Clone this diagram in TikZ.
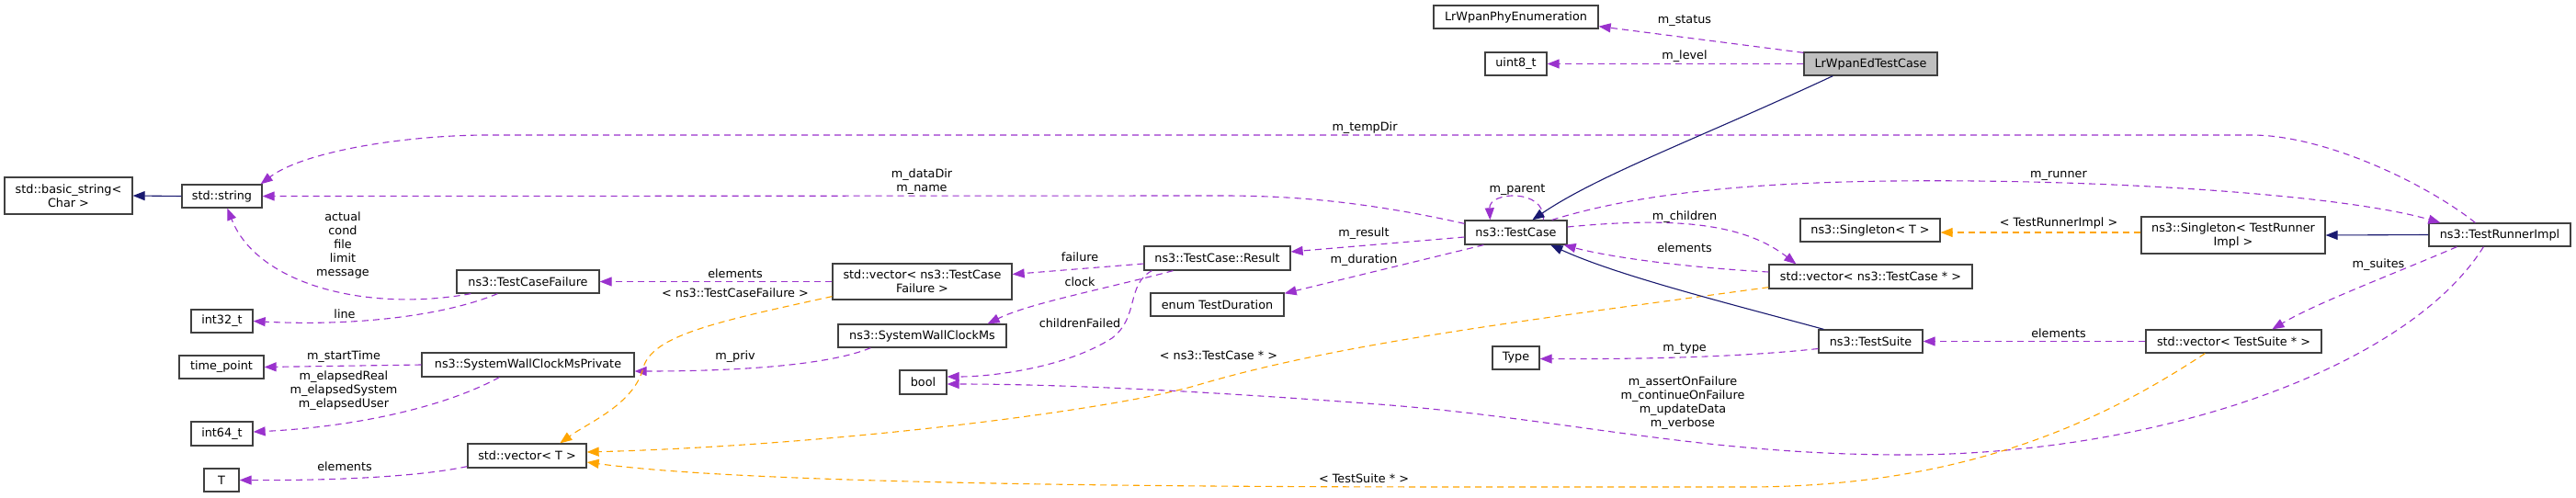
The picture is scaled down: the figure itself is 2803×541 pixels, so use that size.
\documentclass[tikz,border=0pt]{standalone}
\usepackage{fontspec}
\setmainfont{DejaVu Sans}
\usetikzlibrary{arrows.meta,calc}
\definecolor{usecol}{HTML}{9A32CD}
\definecolor{tplcol}{HTML}{FFA500}
\definecolor{inhcol}{HTML}{191970}
\definecolor{bordercol}{HTML}{404040}
\definecolor{fillgray}{HTML}{BFBFBF}
\begin{document}
\begin{tikzpicture}[x=1pt,y=-1pt,
  every node/.style={font=\fontsize{12.8}{15}\selectfont},
  cls/.style={draw=bordercol, line width=1.3pt, fill=white, inner sep=0pt, align=center},
  lbl/.style={inner sep=0pt, align=center},
  use/.style={draw=usecol, line width=1.1pt, dash pattern=on 7pt off 5pt, -{Triangle[length=13pt,width=10pt]}},
  tpl/.style={draw=tplcol, line width=1.1pt, dash pattern=on 7pt off 5pt, -{Triangle[length=13pt,width=10pt]}},
  inh/.style={draw=inhcol, line width=1.1pt, -{Triangle[length=13pt,width=10pt]}}
]
\fill[white] (0,0) rectangle (2803,541);
\useasboundingbox (0,0) rectangle (2803,541);

% nodes
\node[cls, minimum width=139pt, minimum height=40pt] (bstr) at (74.5,213) {std::basic\_string<\\Char >};
\node[cls, minimum width=87pt, minimum height=25pt] (str) at (241.5,213.5) {std::string};
\node[cls, minimum width=67pt, minimum height=25pt] (i32) at (241.5,349.5) {int32\_t};
\node[cls, minimum width=92pt, minimum height=25pt] (tp) at (241,399.5) {time\_point};
\node[cls, minimum width=67pt, minimum height=26pt] (i64) at (241.5,472) {int64\_t};
\node[cls, minimum width=38pt, minimum height=25pt] (tT) at (241,522.5) {T};
\node[cls, minimum width=155pt, minimum height=25pt] (tcf) at (574.5,306.5) {ns3::TestCaseFailure};
\node[cls, minimum width=231pt, minimum height=26pt] (swp) at (574.5,397) {ns3::SystemWallClockMsPrivate};
\node[cls, minimum width=129pt, minimum height=26pt] (vT) at (573.5,496) {std::vector< T >};
\node[cls, minimum width=195pt, minimum height=39pt] (vtcf) at (1003.5,306.5) {std::vector< ns3::TestCase\\Failure >};
\node[cls, minimum width=183pt, minimum height=25pt] (swc) at (1003.5,365.5) {ns3::SystemWallClockMs};
\node[cls, minimum width=51pt, minimum height=26pt] (bool) at (1004.5,416) {bool};
\node[cls, minimum width=159pt, minimum height=26pt] (res) at (1324.5,281) {ns3::TestCase::Result};
\node[cls, minimum width=145pt, minimum height=25pt] (etd) at (1324.5,331.5) {enum TestDuration};
\node[cls, minimum width=111pt, minimum height=26pt] (tc) at (1649.5,253) {ns3::TestCase};
\node[cls, minimum width=179pt, minimum height=25pt] (lpe) at (1649.5,18.5) {LrWpanPhyEnumeration};
\node[cls, minimum width=67pt, minimum height=25pt] (u8) at (1649.5,69.5) {uint8\_t};
\node[cls, minimum width=51pt, minimum height=25pt] (typ) at (1649.5,389.5) {Type};
\node[cls, fill=fillgray, minimum width=145pt, minimum height=25pt] (led) at (2035.5,69.5) {LrWpanEdTestCase};
\node[cls, minimum width=152pt, minimum height=25pt] (sgT) at (2035,250.5) {ns3::Singleton< T >};
\node[cls, minimum width=221pt, minimum height=26pt] (vtc) at (2035.5,301) {std::vector< ns3::TestCase * >};
\node[cls, minimum width=113pt, minimum height=25pt] (ts) at (2035.5,371.5) {ns3::TestSuite};
\node[cls, minimum width=200pt, minimum height=40pt] (sgR) at (2430,256) {ns3::Singleton< TestRunner\\Impl >};
\node[cls, minimum width=191pt, minimum height=25pt] (vts) at (2430.5,371.5) {std::vector< TestSuite * >};
\node[cls, minimum width=154pt, minimum height=25pt] (tri) at (2720,255.5) {ns3::TestRunnerImpl};

% usage edges
\draw[use] ($(led.north west)+(0,1)$) -- ($(lpe.south east)+(0,-3)$);
\draw[use] (led.west) -- (u8.east);
\draw[use] ($(tri.north west)+(51,0)$) .. controls (2640,200) and (2530,147) .. (2450,147) -- (532,147) .. controls (440,147) and (330,165) .. ($(str.north east)+(-2,0)$);
\draw[use] ($(tc.north west)+(0,4)$) .. controls (1480,218) and (1400,213) .. (1330,213) -- (str.east);
\draw[use] ($(tcf.south west)+(16,0)$) .. controls (400,340) and (280,310) .. ($(str.south west)+(50,0)$);
\draw[use] ($(tcf.south west)+(45,0)$) .. controls (480,345) and (380,355) .. (i32.east);
\draw[use] (swp.west) -- (tp.east);
\draw[use] ($(swp.south west)+(85,0)$) .. controls (480,445) and (380,465) .. ($(i64.east)+(0,-2)$);
\draw[use] ($(vT.south west)+(0,-2)$) .. controls (450,520) and (350,523) .. (tT.east);
\draw[use] (vtcf.west) -- (tcf.east);
\draw[use] ($(res.west)+(0,6)$) -- ($(vtcf.east)+(0,-8)$);
\draw[use] ($(res.south west)+(32,0)$) .. controls (1200,315) and (1120,330) .. ($(swc.north east)+(-21,0)$);
\draw[use] ($(swc.south west)+(36,0)$) .. controls (900,398) and (800,404) .. ($(swp.east)+(0,7)$);
\draw[use] ($(res.south west)+(9,0)$) .. controls (1225,310) and (1240,345) .. (1210,368) .. controls (1160,400) and (1080,410) .. ($(bool.east)+(0,-6)$);
\draw[use] ($(tc.west)+(0,5)$) -- ($(res.east)+(0,-7)$);
\draw[use] ($(tc.south west)+(21,0)$) -- ($(etd.north east)+(0,1)$);
\draw[use] ($(tc.north west)+(86,0)$) .. controls (1682,205) and (1620,208) .. ($(tc.north west)+(28,0)$);
\draw[use] ($(tc.east)+(0,-6)$) .. controls (1830,235) and (1900,245) .. ($(vtc.north west)+(30,0)$);
\draw[use] ($(vtc.west)+(0,-5)$) .. controls (1850,292) and (1760,282) .. ($(tc.south east)+(-4,0)$);
\draw[use] ($(tc.north east)+(-17,0)$) .. controls (1800,205) and (1950,195) .. (2150,197) .. controls (2350,199) and (2560,215) .. ($(tri.north west)+(13,0)$);
\draw[use] ($(ts.west)+(0,8)$) .. controls (1900,388) and (1800,391) .. ($(typ.east)+(0,1)$);
\draw[use] (vts.west) -- (ts.east);
\draw[use] ($(tri.south west)+(31,0)$) .. controls (2600,300) and (2520,330) .. ($(vts.north west)+(138,0)$);
\draw[use] ($(tri.south west)+(60,0)$) .. controls (2620,400) and (2350,495) .. (2072,495) .. controls (1850,495) and (1700,455) .. (1500,440) .. controls (1300,425) and (1150,418) .. ($(bool.east)+(0,2)$);

% template edges
\draw[tpl] ($(vtcf.south west)+(0,-4)$) .. controls (780,350) and (710,365) .. (700,400) .. controls (690,440) and (640,460) .. ($(vT.north west)+(101,0)$);
\draw[tpl] ($(vtc.south west)+(0,-2)$) .. controls (1650,350) and (1450,375) .. (1300,420) .. controls (1200,448) and (900,485) .. ($(vT.east)+(0,-4)$);
\draw[tpl] ($(vts.south west)+(65,0)$) .. controls (2300,450) and (2150,530) .. (1900,530) -- (1600,530) .. controls (1200,530) and (800,525) .. ($(vT.east)+(0,7)$);
\draw[tpl] ($(sgR.west)+(0,-3)$) -- ($(sgT.east)+(0,2.5)$);

% inheritance edges
\draw[inh] (str.west) -- (bstr.east);
\draw[inh] ($(led.south west)+(32,0)$) .. controls (1850,150) and (1740,190) .. ($(tc.north west)+(74,0)$);
\draw[inh] ($(ts.north west)+(6,0)$) .. controls (1880,330) and (1760,300) .. ($(tc.south west)+(94,0)$);
\draw[inh] (tri.west) -- (sgR.east);

% labels
\node[lbl] (l1) at (1833,23) {m\_status};
\node[lbl] (l2) at (1833,61) {m\_level};
\node[lbl] (l3) at (1485,139) {m\_tempDir};
\node[lbl] (l4) at (1003,198) {m\_dataDir\\m\_name};
\node[lbl] (l5) at (373,267) {actual\\cond\\file\\limit\\message};
\node[lbl] (l6) at (375,342) {line};
\node[lbl] (l7) at (374,388) {m\_startTime};
\node[lbl] (l8) at (374,425) {m\_elapsedReal\\m\_elapsedSystem\\m\_elapsedUser};
\node[lbl] (l9) at (375,508) {elements};
\node[lbl] (l10) at (800,298) {elements};
\node[lbl] (l11) at (800,319) {< ns3::TestCaseFailure >};
\node[lbl] (l12) at (800,388) {m\_priv};
\node[lbl] (l13) at (1175,280) {failure};
\node[lbl] (l14) at (1175,307) {clock};
\node[lbl] (l15) at (1175,352) {childrenFailed};
\node[lbl] (l16) at (1326,387) {< ns3::TestCase * >};
\node[lbl] (l17) at (1484,521) {< TestSuite * >};
\node[lbl] (l18) at (1484,254) {m\_result};
\node[lbl] (l19) at (1484,283) {m\_duration};
\node[lbl] (l20) at (1651,207) {m\_parent};
\node[lbl] (l21) at (1833,236) {m\_children};
\node[lbl] (l22) at (1833,270) {elements};
\node[lbl] (l23) at (2240,191) {m\_runner};
\node[lbl] (l24) at (2240,243) {< TestRunnerImpl >};
\node[lbl] (l25) at (2588,288) {m\_suites};
\node[lbl] (l26) at (2240,363) {elements};
\node[lbl] (l27) at (1833,380) {m\_type};
\node[lbl] (l28) at (1831,439) {m\_assertOnFailure\\m\_continueOnFailure\\m\_updateData\\m\_verbose};
\end{tikzpicture}
\end{document}
